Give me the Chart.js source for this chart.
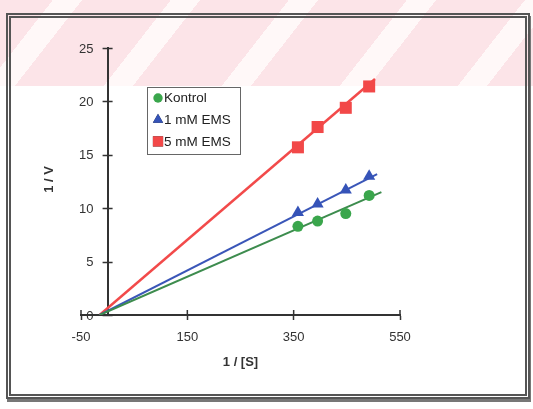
<!DOCTYPE html>
<html>
<head>
<meta charset="utf-8">
<script src="https://cdn.jsdelivr.net/npm/chart.js@4/dist/chart.umd.min.js"></script>
<style>
  html, body { margin: 0; padding: 0; }
  body {
    width: 533px; height: 409px; position: relative; overflow: hidden;
    background:
      linear-gradient(to bottom, rgba(255,255,255,0) 0, rgba(255,255,255,0) 86px, #fff 86px),
      repeating-linear-gradient(128deg, #fce4e8 0 70px, #fff8f8 70px 93px);
    background-size: 533px 409px, 700px 409px;
    background-position: 0 0, -36px 0;
    background-repeat: no-repeat;
  }
  #frame {
    position: absolute; left: 6px; top: 13px; width: 524px; height: 386px;
    box-sizing: border-box; border: 5px double #555;
    box-shadow: 1px 3px 0 #777;
  }
  #graph { position: absolute; left: 0; top: 0; }
</style>
</head>
<body>
<div id="frame"></div>
<canvas id="graph" width="533" height="409"></canvas>
<script>
// 1/[S] values of the measurements
var sInv = [358, 395, 448, 492];
// 1/V values per series
var kontrol = [8.3, 8.8, 9.5, 11.2];
var ems1 = [9.6, 10.4, 11.7, 13.0];
var ems5 = [15.7, 17.6, 19.4, 21.4];
// fitted lines: common start, end points per series
var fitStart = {x: -15, y: 0};
var fitEndX = [515, 507, 503];
var fitEndY = [11.5, 13.2, 22.1];
var seriesNames = ['Kontrol', '1 mM EMS', '5 mM EMS'];
var xTicks = [-50, 150, 350, 550];
var yTicks = [0, 5, 10, 15, 20, 25];

var pointColors = ['#3aa64c', '#3553b8', '#f24848'];
var lineColors = ['#3d8c4e', '#3a56b8', '#f24a4a'];
var pointStyles = ['circle', 'triangle', 'rect'];
var pointSizes = [5.5, 7, 8.5];
var lineWidths = [2, 2, 2.5];

var toPoints = (ys) => ys.map((y, i) => ({x: sInv[i], y: y}));
var allY = [kontrol, ems1, ems5];

var datasets = [];
// trend lines first so markers sit on top
allY.forEach((ys, k) => {
  datasets.push({
    label: seriesNames[k] + ' fit',
    data: [fitStart, {x: fitEndX[k], y: fitEndY[k]}],
    showLine: true,
    borderColor: lineColors[k],
    borderWidth: lineWidths[k],
    pointRadius: 0,
    fill: false,
    order: 2
  });
});
allY.forEach((ys, k) => {
  datasets.push({
    label: seriesNames[k],
    data: toPoints(ys),
    showLine: false,
    pointStyle: pointStyles[k],
    pointRadius: pointSizes[k],
    backgroundColor: pointColors[k],
    borderColor: pointColors[k],
    borderWidth: 0,
    order: 1
  });
});

var axisColor = '#333';
var fontFamily = "'Liberation Sans', Arial, sans-serif";
var font = {family: fontFamily, size: 13};

// y axis sits at x = 0, so its ticks, labels and title are drawn here;
// x axis gets the inner half of its tick marks; legend box too
var axisExtras = {
  id: 'axisExtras',
  afterDraw(chart) {
    var ctx = chart.ctx;
    var xs = chart.scales.x, ys = chart.scales.y;
    var y0 = ys.getPixelForValue(0), x0 = xs.getPixelForValue(0);
    ctx.save();
    ctx.strokeStyle = axisColor;
    ctx.lineWidth = 1.5;
    ctx.beginPath();
    xs.ticks.forEach(t => {
      var px = xs.getPixelForValue(t.value);
      ctx.moveTo(px, y0); ctx.lineTo(px, y0 - 5);
    });
    ys.ticks.forEach(t => {
      var py = Math.round(ys.getPixelForValue(t.value)) + 0.5;
      ctx.moveTo(x0 - 5, py); ctx.lineTo(x0 + 5, py);
    });
    ctx.stroke();

    ctx.fillStyle = '#333';
    ctx.font = '13px ' + fontFamily;
    ctx.textAlign = 'right';
    ctx.textBaseline = 'middle';
    ys.ticks.forEach(t => {
      ctx.fillText(String(t.value), x0 - 14, ys.getPixelForValue(t.value) + 1);
    });

    // y axis title, reading upwards
    ctx.font = 'bold 13px ' + fontFamily;
    ctx.translate(49, (chart.chartArea.top + chart.chartArea.bottom) / 2 - 2);
    ctx.rotate(-Math.PI / 2);
    ctx.textAlign = 'center';
    ctx.fillText('1 / V', 0, 0);
    ctx.restore();

    // legend box
    var bx = 147, by = 87, bw = 93, bh = 67;
    ctx.save();
    ctx.fillStyle = '#fff';
    ctx.fillRect(bx, by, bw, bh);
    ctx.strokeStyle = '#666';
    ctx.lineWidth = 1;
    ctx.strokeRect(bx + 0.5, by + 0.5, bw, bh);
    ctx.font = '13.5px ' + fontFamily;
    ctx.textBaseline = 'middle';
    seriesNames.forEach((name, k) => {
      var cy = by + 11 + k * 21.7;
      Chart.helpers.drawPoint(ctx, {
        pointStyle: pointStyles[k], radius: pointSizes[k] * 0.85, borderWidth: 0
      }, bx + 11, cy);
      ctx.fillStyle = pointColors[k];
      ctx.fill();
      ctx.fillStyle = '#222';
      ctx.fillText(name, bx + 17, cy + 0.5);
    });
    ctx.restore();
  }
};

var chart = new Chart(document.getElementById('graph').getContext('2d'), {
  type: 'scatter',
  data: {datasets: datasets},
  options: {
    responsive: false,
    animation: false,
    layout: {padding: {left: 81, right: 133, top: 48, bottom: 34}},
    plugins: {legend: {display: false}, tooltip: {enabled: false}},
    scales: {
      x: {
        type: 'linear',
        min: -50, max: 550,
        afterBuildTicks: s => { s.ticks = xTicks.map(v => ({value: v})); },
        afterFit: s => { s.height = 60; },
        ticks: {color: '#333', font: font, padding: 10, maxRotation: 0},
        grid: {drawOnChartArea: false, color: axisColor, tickLength: 5, tickWidth: 1.5},
        border: {color: axisColor, width: 2},
        title: {display: true, text: '1 / [S]', color: '#333',
          font: {family: fontFamily, size: 13, weight: 'bold'}, padding: {top: 0, bottom: 5}}
      },
      y: {
        type: 'linear',
        position: {x: 0},
        min: 0, max: 25,
        afterBuildTicks: s => { s.ticks = yTicks.map(v => ({value: v})); },
        ticks: {display: false},
        grid: {display: false},
        border: {display: true, color: axisColor, width: 2}
      }
    }
  },
  plugins: [axisExtras]
});
</script>
</body>
</html>
